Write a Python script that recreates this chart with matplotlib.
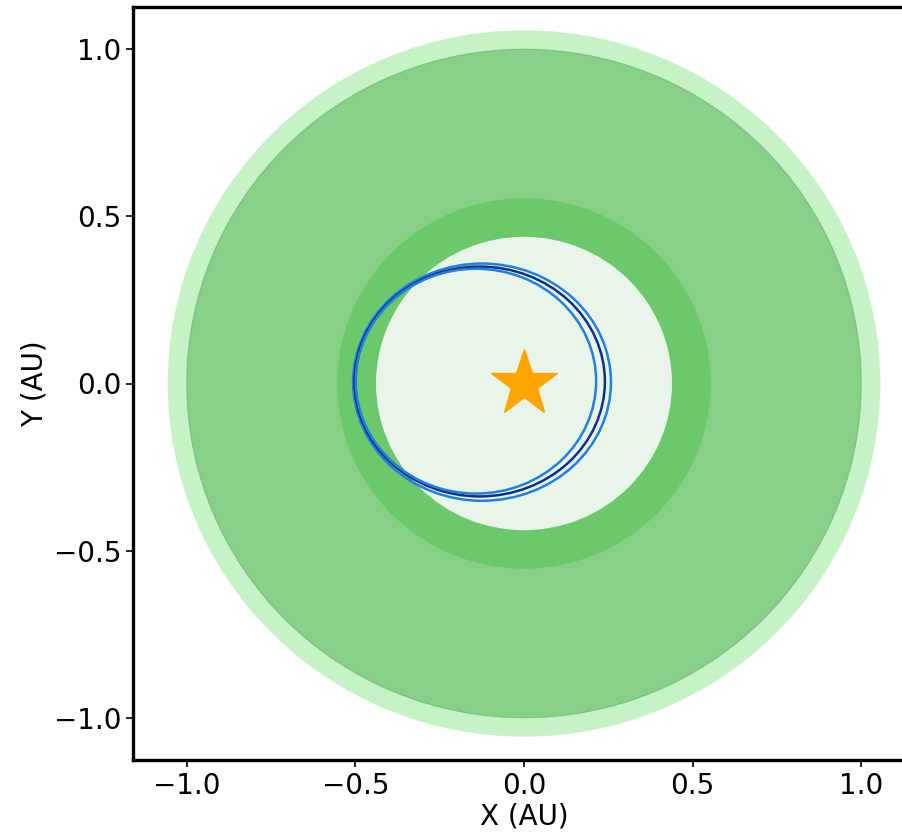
import numpy as np
import matplotlib.pyplot as plt
from matplotlib.patches import Circle, Ellipse

# zone radii (AU) and fills, drawn from the outside in
zone_radii = [1.055, 1.0, 0.552, 0.437]
zone_colors = ['#c6f3c6', '#88cf88', '#6bc96b', '#eaf5ea']
zone_edges = ['#c6f3c6', '#7fc47f', '#6bc96b', '#eaf5ea']

# orbit ellipses: centre x, centre y, width, height (AU)
orbit_cx = [-0.1245, -0.1315, -0.1425]
orbit_cy = [0.004, 0.006, 0.007]
orbit_w = [0.765, 0.743, 0.713]
orbit_h = [0.710, 0.688, 0.673]
orbit_colors = ['#2080dc', '#102f88', '#2080dc']

star_x, star_y = 0.0, 0.0

ticks = [-1.0, -0.5, 0.0, 0.5, 1.0]

fig = plt.figure(figsize=(9.02, 8.33), dpi=100)
W, H = 902, 833
ax = fig.add_axes([133 / W, (H - 760) / H, 782 / W, 753 / H])

for r, fc, ec in zip(zone_radii, zone_colors, zone_edges):
    ax.add_patch(Circle((0, 0), r, facecolor=fc, edgecolor=ec, lw=1.0))

for cx, cy, w, h, c in zip(orbit_cx, orbit_cy, orbit_w, orbit_h, orbit_colors):
    ax.add_patch(Ellipse((cx, cy), w, h, fill=False, edgecolor=c, lw=1.8))

ax.plot(star_x, star_y, marker='*', color='#ffa500', markersize=50, mec='#ffa500')

ax.set_xlim(-1.16, 1.16)
ax.set_ylim(-1.127, 1.127)
ax.set_xticks(ticks)
ax.set_yticks(ticks)
ax.tick_params(labelsize=20, length=5, width=1.2)
ax.set_xlabel('X (AU)', fontsize=20, labelpad=2)
ax.set_ylabel('Y (AU)', fontsize=20, labelpad=4)
for s in ax.spines.values():
    s.set_linewidth(2.4)

fig.savefig('out.png', dpi=100)
